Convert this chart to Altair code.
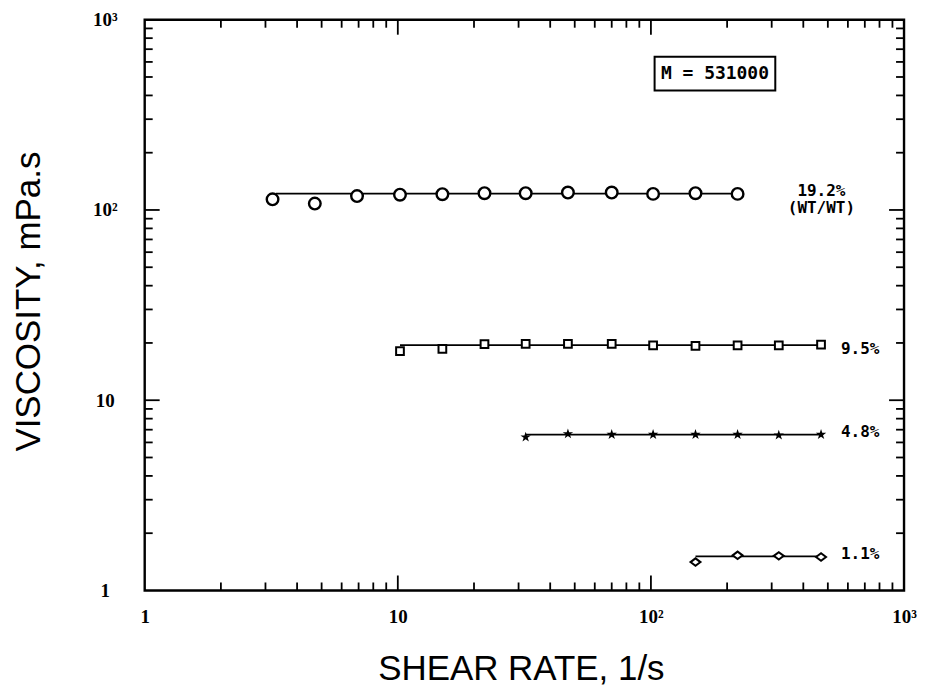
import altair as alt
import pandas as pd

# ---------------- data ----------------
series = ["19.2%", "9.5%", "4.8%", "1.1%"]

rate_192 = [3.2, 4.7, 6.9, 10.2, 15, 22, 32, 47, 70, 102, 150, 220]
visc_192 = [113.7, 108, 118.3, 120.3, 121, 122.5, 122.5, 123.5, 123.5, 121.5, 122.5, 121.5]

rate_95 = [10.2, 15, 22, 32, 47, 70, 102, 150, 220, 320, 470]
visc_95 = [18.1, 18.6, 19.7, 19.8, 19.8, 19.8, 19.4, 19.3, 19.4, 19.4, 19.6]

rate_48 = [32, 47, 70, 102, 150, 220, 320, 470]
visc_48 = [6.4, 6.65, 6.6, 6.6, 6.6, 6.6, 6.55, 6.6]

rate_11 = [150, 220, 320, 470]
visc_11 = [1.41, 1.53, 1.52, 1.50]

# fitted horizontal lines
fit_start = [3.3, 10.2, 32, 150]
fit_end = [220, 470, 470, 470]
fit_level = [122, 19.5, 6.6, 1.51]

x_tick_labels = ["1", "10", "10²", "10³"]
y_tick_labels = ["1", "10", "10²", "10³"]
decades = [1, 10, 100, 1000]

box_text = "M = 531000"
box_x = [103.4, 310]
box_y = [424, 639.5]

# ---------------- layout ----------------
W, H = 761, 572
xs = alt.Scale(type="log", domain=[1, 1000], nice=False)
ys = alt.Scale(type="log", domain=[1, 1000], nice=False)

label_font = "Liberation Serif"
mono = "DejaVu Sans Mono"

xaxis = alt.Axis(
    values=decades,
    labelExpr="datum.value >= 999 ? '%s' : datum.value >= 99 ? '%s' : datum.value >= 9 ? '%s' : '%s'"
    % (x_tick_labels[3], x_tick_labels[2], x_tick_labels[1], x_tick_labels[0]),
    ticks=False, domain=False, grid=False, tickSize=0,
    labelFont=label_font, labelFontSize=19, labelFontWeight="bold", labelColor="black",
    labelPadding=26, labelBaseline="middle", labelFlush=False, labelOverlap=False,
    title="SHEAR RATE, 1/s", titleFont="Liberation Sans", titleFontSize=35,
    titleFontWeight="normal", titleColor="black", titleX=377, titleY=78,
    titleBaseline="middle", titleAlign="center",
)
yaxis = alt.Axis(
    values=decades,
    labelExpr="datum.value >= 999 ? '%s' : datum.value >= 99 ? '%s' : datum.value >= 9 ? '%s' : '%s'"
    % (y_tick_labels[3], y_tick_labels[2], y_tick_labels[1], y_tick_labels[0]),
    ticks=False, domain=False, grid=False, tickSize=0,
    labelFont=label_font, labelFontSize=19, labelFontWeight="bold", labelColor="black",
    labelPadding=40, labelAlign="center", labelBaseline="middle", labelFlush=False,
    labelOverlap=False,
    title="VISCOSITY, mPa.s", titleFont="Liberation Sans", titleFontSize=35,
    titleFontWeight="normal", titleColor="black", titleX=-116, titleY=282,
    titleBaseline="middle", titleAlign="center", titleAngle=-90,
)


def X(f):
    return alt.X(f, type="quantitative", scale=xs, axis=xaxis)


def Y(f):
    return alt.Y(f, type="quantitative", scale=ys, axis=yaxis)


layers = []

# ---- inward ticks on all four sides ----
major = [10, 100]
minor = [k * 10 ** e for e in range(3) for k in range(2, 10)]
MAJ, MIN = 15, 8
for vals, L in ((major, MAJ), (minor, MIN)):
    tdf = pd.DataFrame({"v": vals})
    base = alt.Chart(tdf).mark_rule(color="black", strokeWidth=1.8)
    layers.append(base.encode(x=X("v"), y=alt.value(H), y2=alt.value(H - L)))
    layers.append(base.encode(x=X("v"), y=alt.value(0), y2=alt.value(L)))
    layers.append(base.encode(y=Y("v"), x=alt.value(0), x2=alt.value(L)))
    layers.append(base.encode(y=Y("v"), x=alt.value(W), x2=alt.value(W - L)))

# ---- frame ----
layers.append(
    alt.Chart(pd.DataFrame({"v": [1]})).mark_rect(fill=None, stroke="black", strokeWidth=2.4).encode(
        x=alt.value(0), x2=alt.value(W), y=alt.value(0), y2=alt.value(H)
    )
)

# ---- fitted lines ----
fit_df = pd.DataFrame({"s": series, "x1": fit_start, "x2": fit_end, "y": fit_level})
layers.append(
    alt.Chart(fit_df).mark_rule(color="black", strokeWidth=1.8).encode(
        x=X("x1"), x2="x2", y=Y("y")
    )
)

# ---- markers ----
star = ("M0,-1L0.2245,-0.309L0.951,-0.309L0.363,0.118L0.588,0.809L0,0.382"
        "L-0.588,0.809L-0.363,0.118L-0.951,-0.309L-0.2245,-0.309Z")
diamond = "M-1,0L0,-0.75L1,0L0,0.75Z"

marker_specs = [
    (rate_192, visc_192, dict(shape="circle", size=135, filled=False, strokeWidth=2.4)),
    (rate_95, visc_95, dict(shape="square", size=60, filled=False, strokeWidth=2)),
    (rate_48, visc_48, dict(shape=star, size=120, filled=True, strokeWidth=0.5)),
    (rate_11, visc_11, dict(shape=diamond, size=100, filled=False, strokeWidth=2)),
]
for r, v, style in marker_specs:
    d = pd.DataFrame({"x": r, "y": v})
    layers.append(
        alt.Chart(d).mark_point(color="black", fill="white" if not style["filled"] else "black",
                                opacity=1, **{k: val for k, val in style.items() if k != "filled"},
                                filled=style["filled"]).encode(x=X("x"), y=Y("y"))
    )

# ---- series labels ----
lab_df = pd.DataFrame({"x": fit_end, "y": fit_level, "t": series})
lab_style = dict(font=mono, fontSize=16, fontWeight="bold", color="black", baseline="middle")
layers.append(alt.Chart(lab_df.iloc[[0]]).mark_text(align="center", dx=84, dy=-3, **lab_style)
              .encode(x=X("x"), y=Y("y"), text="t:N"))
layers.append(alt.Chart(lab_df.iloc[[0]]).mark_text(align="center", dx=84, dy=14.5, **lab_style)
              .encode(x=X("x"), y=Y("y"), text=alt.value("(WT/WT)")))
for i, ddy in zip([1, 2, 3], [4, -3, -2]):
    layers.append(alt.Chart(lab_df.iloc[[i]]).mark_text(align="left", dx=20, dy=ddy, **lab_style)
                  .encode(x=X("x"), y=Y("y"), text="t:N"))

# ---- annotation box ----
box_df = pd.DataFrame({"x1": [box_x[0]], "x2": [box_x[1]], "y1": [box_y[0]], "y2": [box_y[1]],
                       "xc": [(box_x[0] * box_x[1]) ** 0.5], "yc": [(box_y[0] * box_y[1]) ** 0.5],
                       "t": [box_text]})
layers.append(alt.Chart(box_df).mark_rect(fill="white", stroke="black", strokeWidth=2).encode(
    x=X("x1"), x2="x2", y=Y("y1"), y2="y2"))
layers.append(alt.Chart(box_df).mark_text(font=mono, fontSize=18, fontWeight="bold", color="black",
                                          align="center", baseline="middle").encode(
    x=X("xc"), y=Y("yc"), text="t:N"))

chart = alt.layer(*layers).properties(
    width=W, height=H,
    autosize=alt.AutoSizeParams(type="none"),
    padding={"left": 137, "top": 11, "right": 14, "bottom": 96},
).configure_view(stroke=None).configure(background="white")

chart.save("out.html", embed_options={"renderer": "svg", "actions": False})
